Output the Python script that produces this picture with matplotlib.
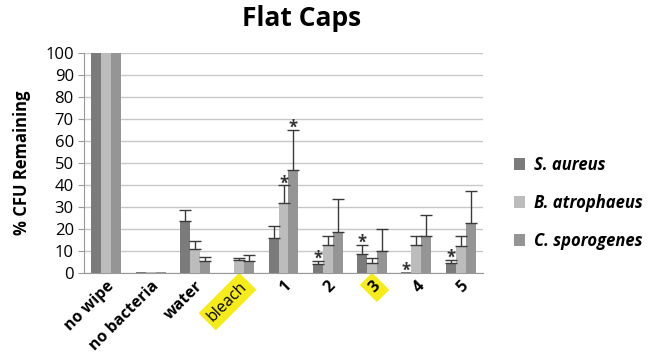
import numpy as np
import matplotlib.pyplot as plt

plt.rcParams['font.family'] = ['Open Sans', 'DejaVu Sans']

categories = ["no wipe", "no bacteria", "water", "bleach", "1", "2", "3", "4", "5"]
series = ["S. aureus", "B. atrophaeus", "C. sporogenes"]
s_aureus = [100, 0.3, 23.4, 0, 15.8, 4.1, 8.6, 0.3, 4.5]
s_aureus_err = [0, 0, 5.1, 0, 5.6, 1.5, 4.3, 0, 1.4]
b_atro = [100, 0.3, 10.8, 5.9, 32.0, 12.6, 4.5, 12.6, 12.3]
b_atro_err = [0, 0, 3.7, 0.9, 7.8, 4.4, 2.3, 4.4, 4.7]
c_spor = [100, 0.3, 5.2, 5.5, 46.8, 18.6, 9.8, 17.0, 22.6]
c_spor_err = [0, 0, 2.1, 2.7, 18.4, 15.2, 10.2, 9.5, 14.5]
# significance stars
s_star = [0, 0, 0, 0, 0, 1, 1, 1, 1]
b_star = [0, 0, 0, 0, 1, 0, 0, 0, 0]
c_star = [0, 0, 0, 0, 1, 0, 0, 0, 0]
highlight = ["bleach", "3"]

colors = ["#7b7b7b", "#bcbcbc", "#959595"]

fig = plt.figure(figsize=(6.48, 3.61), dpi=100)
ax = fig.add_axes([0.13, 0.244, 0.615, 0.609])

x = np.arange(len(categories))
w = 0.225
data = [(s_aureus, s_aureus_err, s_star), (b_atro, b_atro_err, b_star), (c_spor, c_spor_err, c_star)]
for i, (vals, errs, stars) in enumerate(data):
    pos = x + (i - 1) * w
    ax.bar(pos, vals, w, color=colors[i], label=series[i], zorder=3)
    e = np.array(errs)
    m = e > 0
    ax.errorbar(pos[m], np.array(vals)[m], yerr=[np.zeros(m.sum()), e[m]],
                fmt="none", ecolor="#3a3a3a", elinewidth=1, capsize=4, capthick=1, zorder=4)
    for p, v, er, st in zip(pos, vals, errs, stars):
        if st:
            ax.text(p, v + er + 0.8, "*", ha="center", va="center", fontsize=12,
                    fontweight="bold", color="#333333", zorder=5)

ax.set_xlim(-0.5, len(categories) - 0.5)
ax.set_ylim(0, 100)
ax.set_yticks(range(0, 101, 10))
ax.tick_params(axis="y", labelsize=12, length=4, color="#999999")
ax.tick_params(axis="x", length=0, pad=4)
ax.yaxis.grid(True, color="#c8c8c8", linewidth=1, zorder=0)
ax.set_axisbelow(True)
for sp in ["top", "right"]:
    ax.spines[sp].set_visible(False)
ax.spines["left"].set_color("#999999")
ax.spines["bottom"].set_color("#999999")

ax.set_xticks(x)
ax.set_xticklabels(categories, rotation=45, ha="right", rotation_mode="anchor",
                   fontsize=11.5, fontweight="bold")
for lbl in ax.get_xticklabels():
    if lbl.get_text() in highlight:
        lbl.set_bbox(dict(facecolor="#f5ec1a", edgecolor="none", pad=3))
        if lbl.get_text() == "bleach":
            lbl.set_fontweight("normal")

ax.set_ylabel("% CFU Remaining", fontsize=12, fontweight="bold", labelpad=10)
fig.suptitle("Flat Caps", x=0.465, y=0.985, fontsize=19, fontweight="bold")

leg = ax.legend(loc="center left", bbox_to_anchor=(1.04, 0.32), frameon=False,
                handlelength=0.7, handleheight=0.7, labelspacing=1.2, fontsize=12,
                handletextpad=0.5)
for t in leg.get_texts():
    t.set_fontstyle("italic")
    t.set_fontweight("bold")

fig.savefig("out.png", dpi=100)
